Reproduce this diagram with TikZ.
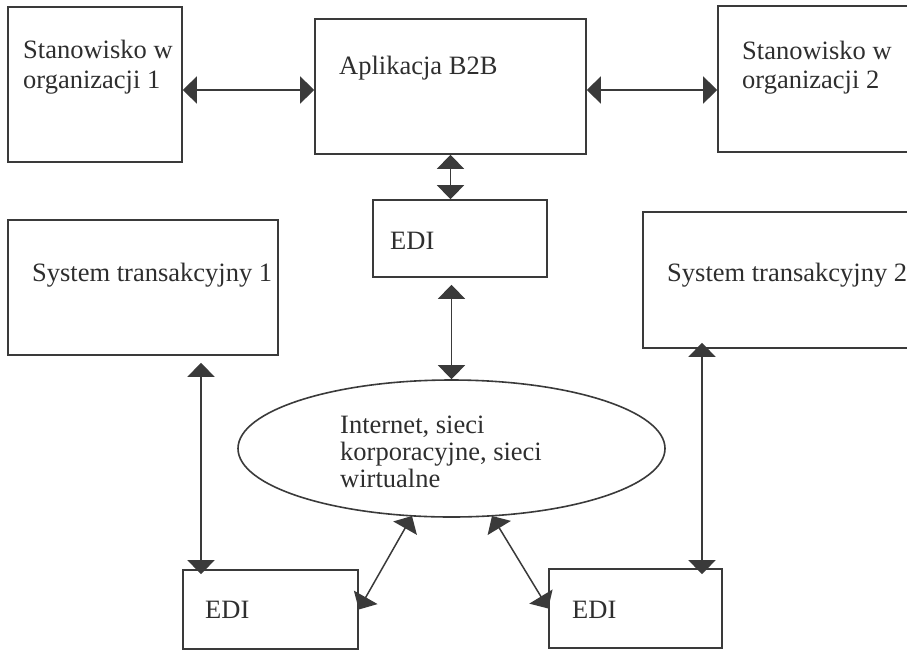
\documentclass[tikz,border=0pt]{standalone}
\usepackage{fontspec}
\setmainfont{Liberation Serif}
\usetikzlibrary{arrows.meta,shapes.geometric}
\definecolor{ink}{HTML}{3A3A3A}
\definecolor{txt}{HTML}{2E2E2E}
\begin{document}
\begin{tikzpicture}[x=1pt,y={(0pt,-1pt)},
  >={Triangle[length=14pt,width=27pt]},
  box/.style={draw=ink,line width=1.6pt,rectangle,inner sep=0pt},
  oval/.style={draw=ink,line width=1.6pt,ellipse,inner sep=0pt},
  lbl/.style={anchor=base west,inner sep=0pt,text=txt,font=\fontsize{26.5}{30}\selectfont},
  dbl/.style={<->,draw=ink,fill=ink,line width=1.5pt}]
\useasboundingbox (0,0) rectangle (907,651);
% boxes
\node[box,minimum width=174pt,minimum height=155pt] (s1) at (95,84.5) {};
\node[box,minimum width=271pt,minimum height=135pt] (b2b) at (450.5,86.5) {};
\node[box,minimum width=194pt,minimum height=146pt] (s2) at (815,79) {};
\node[box,minimum width=174pt,minimum height=77pt] (edi0) at (460,238.5) {};
\node[box,minimum width=270pt,minimum height=135pt] (st1) at (143,287.5) {};
\node[box,minimum width=269pt,minimum height=136pt] (st2) at (777.5,280) {};
\node[oval,minimum width=427pt,minimum height=137pt] (ell) at (451.5,448.5) {};
\node[box,minimum width=175pt,minimum height=79pt] (edi1) at (270.5,609.5) {};
\node[box,minimum width=173pt,minimum height=79pt] (edi2) at (635.5,608.5) {};
% texts
\node[lbl] (s1a) at (23,58) {Stanowisko w};
\node[lbl] (s1b) at (23,88) {organizacji 1};
\node[lbl] (b2bt) at (339,74) {Aplikacja B2B};
\node[lbl] (s2a) at (742,59) {Stanowisko w};
\node[lbl] (s2b) at (742,88) {organizacji 2};
\node[lbl] (edi0t) at (390,249) {EDI};
\node[lbl] (st1t) at (32,281) {System transakcyjny 1};
\node[lbl] (st2t) at (667,281) {System transakcyjny 2};
\node[lbl] (ella) at (340,433) {Internet, sieci};
\node[lbl] (ellb) at (340,460) {korporacyjne, sieci};
\node[lbl] (ellc) at (340,487) {wirtualne};
\node[lbl] (edi1t) at (205,618) {EDI};
\node[lbl] (edi2t) at (572,618) {EDI};
% connectors
\coordinate (p1) at (412,516);
\coordinate (p2) at (492,516);
\draw[dbl] (s1.east |- 0,90) -- (b2b.west |- 0,90);
\draw[dbl] (b2b.east |- 0,90) -- (s2.west |- 0,90);
\draw[dbl] (b2b.south) -- (b2b.south |- edi0.north);
\draw[dbl,shorten <=7pt] (edi0.south -| ell.north) -- (ell.north);
\draw[dbl,shorten <=7pt,shorten >=-5pt] (st1.south -| 201,0) -- (edi1.north -| 201,0);
\draw[dbl,shorten <=-6pt,shorten >=-6pt] (st2.south -| 702,0) -- (edi2.north -| 702,0);
\draw[dbl] (p1) -- (edi1.east);
\draw[dbl] (p2) -- (edi2.west);
\end{tikzpicture}
\end{document}
